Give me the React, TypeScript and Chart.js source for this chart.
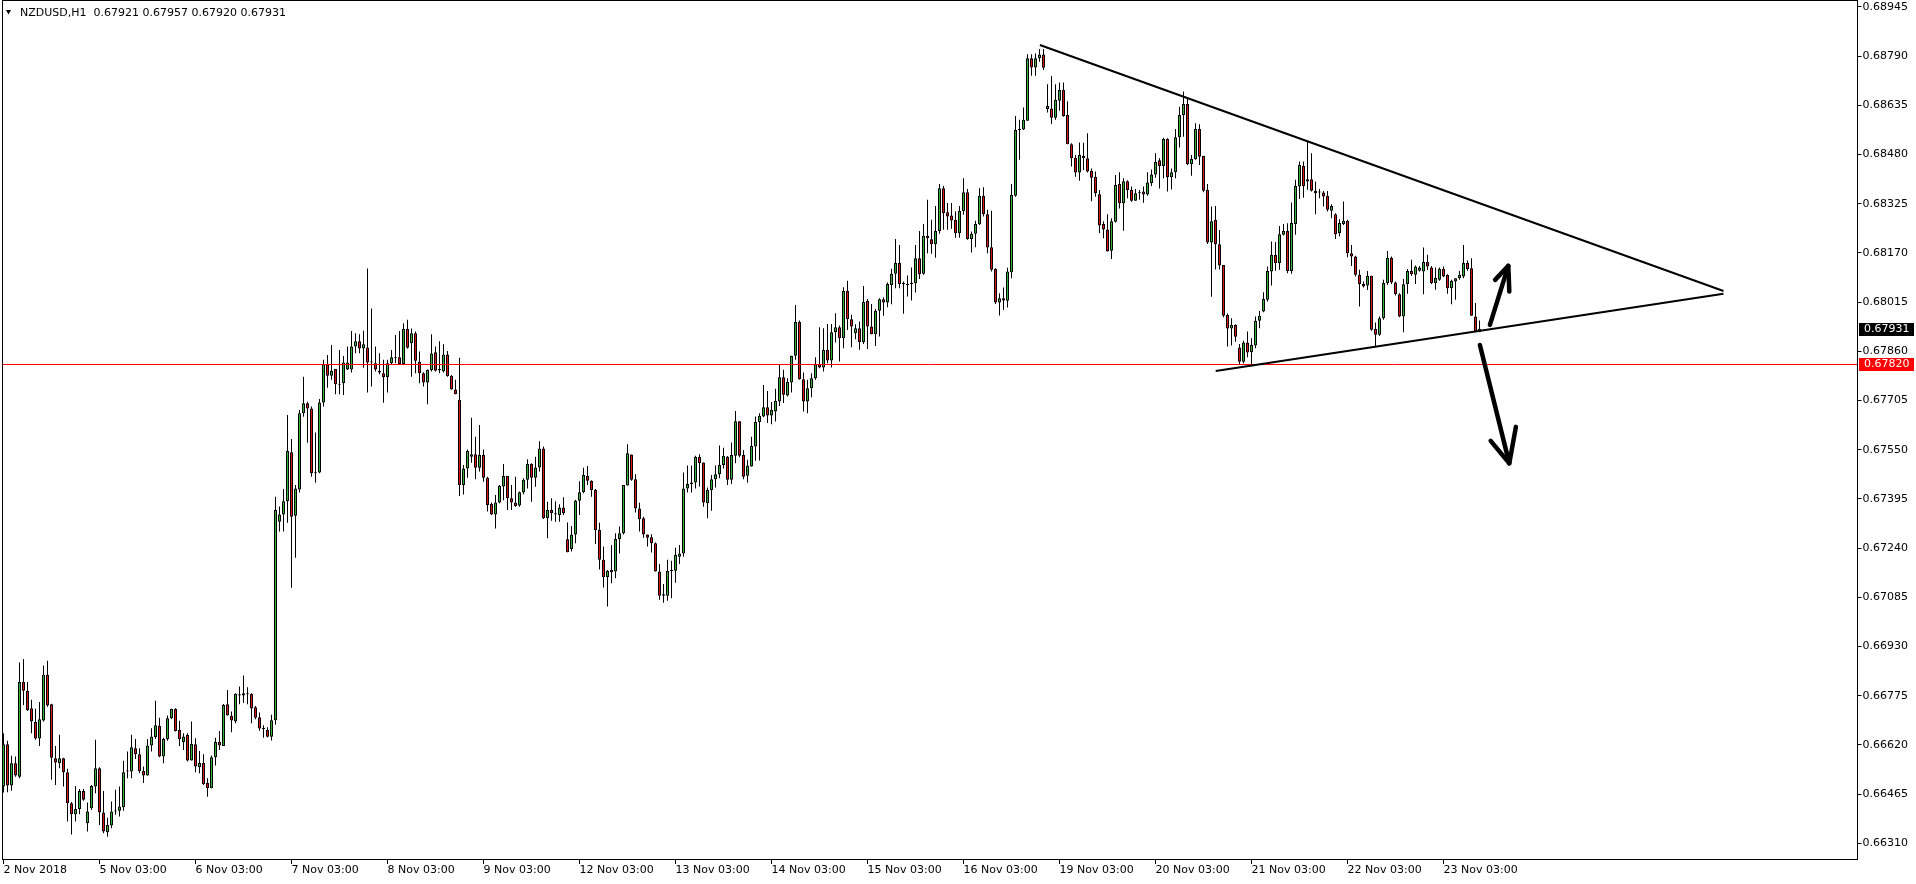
import React, { useEffect, useRef } from 'react';
import { Chart, registerables } from 'chart.js';

Chart.register(...registerables);

// ---- DATA ----
const symbol = 'NZDUSD,H1';

const opens = [
  0.66489,0.66622,0.66492,0.66562,0.66520,0.66818,0.66791,0.66736,0.66692,0.66640,
  0.66697,0.66841,0.66748,0.66578,0.66562,0.66578,0.66534,0.66436,0.66402,0.66418,
  0.66475,0.66373,0.66421,0.66489,0.66547,0.66407,0.66345,0.66366,0.66410,0.66413,
  0.66424,0.66536,0.66536,0.66610,0.66591,0.66538,0.66524,0.66618,0.66644,0.66680,
  0.66584,0.66638,0.66704,0.66733,0.66667,0.66629,0.66651,0.66571,0.66622,0.66550,
  0.66563,0.66500,0.66484,0.66581,0.66629,0.66617,0.66748,0.66712,0.66694,0.66780,
  0.66776,0.66780,0.66781,0.66739,0.66707,0.66672,0.66667,0.66646,0.66698,0.67323,
  0.67346,0.67388,0.67542,0.67342,0.67425,0.67665,0.67696,0.67680,0.67479,0.67478,
  0.67699,0.67819,0.67783,0.67804,0.67757,0.67759,0.67803,0.67803,0.67875,0.67892,
  0.67869,0.67872,0.67825,0.67822,0.67799,0.67791,0.67778,0.67822,0.67838,0.67841,
  0.67820,0.67930,0.67885,0.67917,0.67827,0.67791,0.67762,0.67801,0.67857,0.67801,
  0.67796,0.67850,0.67782,0.67740,0.67707,0.67439,0.67491,0.67528,0.67536,0.67493,
  0.67533,0.67462,0.67379,0.67346,0.67384,0.67434,0.67467,0.67397,0.67384,0.67374,
  0.67415,0.67455,0.67505,0.67462,0.67494,0.67554,0.67334,0.67360,0.67350,0.67344,
  0.67368,0.67268,0.67237,0.67283,0.67389,0.67416,0.67467,0.67452,0.67423,0.67297,
  0.67203,0.67148,0.67171,0.67166,0.67269,0.67287,0.67437,0.67535,0.67457,0.67365,
  0.67334,0.67283,0.67274,0.67255,0.67166,0.67095,0.67090,0.67168,0.67169,0.67213,
  0.67223,0.67428,0.67441,0.67447,0.67528,0.67510,0.67381,0.67423,0.67457,0.67473,
  0.67502,0.67528,0.67455,0.67531,0.67640,0.67533,0.67468,0.67497,0.67560,0.67637,
  0.67655,0.67684,0.67658,0.67670,0.67702,0.67778,0.67721,0.67762,0.67846,0.67952,
  0.67772,0.67702,0.67744,0.67775,0.67819,0.67809,0.67864,0.67831,0.67920,0.67936,
  0.67901,0.68050,0.67961,0.67917,0.67933,0.67889,0.68019,0.67938,0.67914,0.67988,
  0.68024,0.68014,0.68069,0.68104,0.68138,0.68075,0.68072,0.68072,0.68074,0.68153,
  0.68104,0.68224,0.68213,0.68197,0.68239,0.68374,0.68298,0.68288,0.68274,0.68232,
  0.68302,0.68361,0.68214,0.68230,0.68260,0.68350,0.68292,0.68188,0.68119,0.68014,
  0.68027,0.68019,0.68109,0.68350,0.68557,0.68559,0.68586,0.68783,0.68754,0.68783,
  0.68795,0.68623,0.68625,0.68596,0.68649,0.68683,0.68604,0.68512,0.68470,0.68423,
  0.68475,0.68468,0.68428,0.68410,0.68355,0.68261,0.68244,0.68177,0.68268,0.68387,
  0.68326,0.68396,0.68368,0.68334,0.68358,0.68363,0.68354,0.68389,0.68417,0.68462,
  0.68444,0.68529,0.68408,0.68424,0.68534,0.68604,0.68639,0.68449,0.68465,0.68560,
  0.68475,0.68368,0.68203,0.68274,0.68197,0.68132,0.67974,0.67932,0.67943,0.67872,
  0.67827,0.67888,0.67857,0.67878,0.67956,0.67985,0.68022,0.68111,0.68164,0.68138,
  0.68227,0.68239,0.68113,0.68261,0.68379,0.68444,0.68395,0.68402,0.68366,0.68360,
  0.68360,0.68350,0.68303,0.68292,0.68232,0.68261,0.68271,0.68169,0.68159,0.68101,
  0.68072,0.68067,0.68098,0.67931,0.67912,0.67964,0.68075,0.68155,0.68077,0.68040,
  0.67970,0.68071,0.68113,0.68101,0.68114,0.68111,0.68141,0.68124,0.68075,0.68085,
  0.68120,0.68100,0.68059,0.68080,0.68090,0.68096,0.68138,0.68122,0.67970,0.67921,
];

const highs = [
  0.66657,0.66633,0.66586,0.66584,0.66880,0.66891,0.66818,0.66762,0.66734,0.66755,
  0.66870,0.66885,0.66750,0.66617,0.66652,0.66580,0.66545,0.66440,0.66491,0.66481,
  0.66481,0.66439,0.66494,0.66636,0.66550,0.66475,0.66391,0.66442,0.66479,0.66489,
  0.66570,0.66599,0.66652,0.66639,0.66610,0.66552,0.66639,0.66673,0.66759,0.66706,
  0.66643,0.66713,0.66734,0.66736,0.66696,0.66657,0.66657,0.66694,0.66641,0.66601,
  0.66591,0.66515,0.66587,0.66643,0.66664,0.66749,0.66793,0.66725,0.66783,0.66804,
  0.66839,0.66802,0.66783,0.66743,0.66722,0.66682,0.66676,0.66715,0.67402,0.67371,
  0.67426,0.67659,0.67584,0.67439,0.67675,0.67780,0.67701,0.67686,0.67604,0.67710,
  0.67833,0.67848,0.67880,0.67804,0.67864,0.67845,0.67875,0.67924,0.67917,0.67914,
  0.67925,0.68121,0.67995,0.67875,0.67854,0.67833,0.67833,0.67864,0.67911,0.67924,
  0.67948,0.67959,0.67932,0.67922,0.67859,0.67794,0.67803,0.67914,0.67875,0.67892,
  0.67882,0.67861,0.67785,0.67770,0.67840,0.67502,0.67551,0.67651,0.67591,0.67628,
  0.67551,0.67465,0.67384,0.67407,0.67439,0.67505,0.67467,0.67439,0.67465,0.67418,
  0.67460,0.67520,0.67507,0.67528,0.67577,0.67560,0.67386,0.67397,0.67388,0.67378,
  0.67400,0.67321,0.67310,0.67392,0.67451,0.67493,0.67499,0.67454,0.67426,0.67320,
  0.67245,0.67171,0.67250,0.67287,0.67308,0.67439,0.67567,0.67535,0.67473,0.67383,
  0.67339,0.67283,0.67284,0.67258,0.67190,0.67127,0.67203,0.67200,0.67241,0.67250,
  0.67478,0.67500,0.67500,0.67531,0.67536,0.67510,0.67431,0.67470,0.67500,0.67563,
  0.67556,0.67530,0.67573,0.67672,0.67640,0.67549,0.67518,0.67591,0.67655,0.67665,
  0.67754,0.67735,0.67700,0.67742,0.67819,0.67802,0.67775,0.67846,0.68006,0.67957,
  0.67793,0.67770,0.67791,0.67841,0.67936,0.67933,0.67946,0.67946,0.67980,0.67941,
  0.68062,0.68082,0.67975,0.67945,0.67954,0.68066,0.68025,0.68009,0.67993,0.68027,
  0.68030,0.68077,0.68120,0.68214,0.68195,0.68080,0.68099,0.68124,0.68195,0.68239,
  0.68261,0.68337,0.68274,0.68318,0.68387,0.68381,0.68327,0.68327,0.68300,0.68318,
  0.68405,0.68371,0.68237,0.68271,0.68374,0.68377,0.68306,0.68303,0.68122,0.68043,
  0.68061,0.68123,0.68387,0.68601,0.68589,0.68628,0.68796,0.68796,0.68798,0.68812,
  0.68812,0.68701,0.68727,0.68701,0.68707,0.68707,0.68648,0.68515,0.68478,0.68518,
  0.68517,0.68547,0.68436,0.68426,0.68368,0.68270,0.68292,0.68279,0.68415,0.68424,
  0.68405,0.68399,0.68379,0.68371,0.68368,0.68379,0.68424,0.68433,0.68484,0.68468,
  0.68533,0.68531,0.68436,0.68560,0.68630,0.68678,0.68657,0.68478,0.68578,0.68575,
  0.68476,0.68387,0.68316,0.68318,0.68242,0.68132,0.67979,0.67964,0.67945,0.67883,
  0.67893,0.67922,0.67901,0.67970,0.67987,0.68046,0.68127,0.68206,0.68204,0.68255,
  0.68261,0.68263,0.68329,0.68400,0.68458,0.68458,0.68521,0.68484,0.68395,0.68371,
  0.68365,0.68365,0.68323,0.68295,0.68276,0.68332,0.68274,0.68195,0.68161,0.68117,
  0.68080,0.68113,0.68098,0.67951,0.67970,0.68085,0.68176,0.68159,0.68080,0.68043,
  0.68088,0.68119,0.68148,0.68130,0.68129,0.68187,0.68164,0.68129,0.68124,0.68124,
  0.68127,0.68103,0.68085,0.68090,0.68113,0.68195,0.68146,0.68153,0.68012,0.67957,
];

const lows = [
  0.66470,0.66471,0.66476,0.66520,0.66515,0.66746,0.66727,0.66657,0.66636,0.66617,
  0.66694,0.66740,0.66510,0.66494,0.66547,0.66489,0.66379,0.66338,0.66379,0.66402,
  0.66444,0.66347,0.66415,0.66468,0.66368,0.66342,0.66331,0.66358,0.66400,0.66395,
  0.66413,0.66515,0.66515,0.66576,0.66531,0.66500,0.66524,0.66599,0.66639,0.66581,
  0.66562,0.66633,0.66702,0.66662,0.66617,0.66604,0.66568,0.66571,0.66534,0.66531,
  0.66494,0.66457,0.66484,0.66555,0.66604,0.66617,0.66713,0.66660,0.66688,0.66748,
  0.66752,0.66748,0.66688,0.66701,0.66665,0.66643,0.66644,0.66634,0.66684,0.67292,
  0.67292,0.67320,0.67115,0.67210,0.67415,0.67654,0.67572,0.67465,0.67446,0.67476,
  0.67686,0.67745,0.67770,0.67725,0.67725,0.67722,0.67801,0.67793,0.67854,0.67854,
  0.67808,0.67730,0.67749,0.67796,0.67788,0.67698,0.67730,0.67817,0.67822,0.67817,
  0.67817,0.67869,0.67780,0.67791,0.67759,0.67749,0.67693,0.67796,0.67796,0.67791,
  0.67793,0.67780,0.67740,0.67725,0.67404,0.67409,0.67462,0.67509,0.67457,0.67481,
  0.67449,0.67355,0.67344,0.67302,0.67381,0.67391,0.67360,0.67360,0.67370,0.67370,
  0.67410,0.67428,0.67386,0.67433,0.67481,0.67332,0.67271,0.67326,0.67323,0.67323,
  0.67344,0.67227,0.67229,0.67255,0.67344,0.67413,0.67439,0.67402,0.67253,0.67173,
  0.67116,0.67056,0.67129,0.67145,0.67223,0.67283,0.67437,0.67452,0.67352,0.67292,
  0.67273,0.67245,0.67226,0.67166,0.67077,0.67068,0.67074,0.67082,0.67131,0.67190,
  0.67213,0.67415,0.67415,0.67428,0.67434,0.67370,0.67334,0.67358,0.67431,0.67460,
  0.67491,0.67439,0.67442,0.67507,0.67526,0.67457,0.67446,0.67497,0.67515,0.67516,
  0.67652,0.67634,0.67630,0.67639,0.67688,0.67697,0.67718,0.67730,0.67833,0.67770,
  0.67670,0.67665,0.67715,0.67770,0.67807,0.67796,0.67822,0.67809,0.67888,0.67828,
  0.67870,0.67927,0.67873,0.67898,0.67865,0.67883,0.67867,0.67914,0.67877,0.67907,
  0.67972,0.67999,0.68008,0.68059,0.68059,0.67978,0.68033,0.68020,0.68045,0.68088,
  0.68101,0.68169,0.68167,0.68155,0.68230,0.68243,0.68243,0.68246,0.68218,0.68218,
  0.68290,0.68211,0.68171,0.68188,0.68258,0.68285,0.68169,0.68111,0.68009,0.67973,
  0.67990,0.67998,0.68090,0.68347,0.68463,0.68557,0.68586,0.68728,0.68728,0.68772,
  0.68746,0.68612,0.68576,0.68589,0.68618,0.68599,0.68512,0.68442,0.68410,0.68397,
  0.68431,0.68423,0.68333,0.68347,0.68232,0.68216,0.68174,0.68151,0.68266,0.68310,
  0.68240,0.68342,0.68331,0.68334,0.68337,0.68328,0.68350,0.68381,0.68407,0.68373,
  0.68405,0.68363,0.68370,0.68405,0.68502,0.68536,0.68447,0.68413,0.68463,0.68447,
  0.68361,0.68198,0.68032,0.68118,0.68118,0.67967,0.67875,0.67878,0.67890,0.67817,
  0.67822,0.67841,0.67812,0.67870,0.67933,0.67983,0.68017,0.68067,0.68114,0.68117,
  0.68225,0.68106,0.68104,0.68227,0.68340,0.68344,0.68369,0.68363,0.68292,0.68342,
  0.68316,0.68300,0.68279,0.68214,0.68222,0.68258,0.68156,0.68129,0.68096,0.68001,
  0.68061,0.68053,0.67925,0.67877,0.67909,0.67959,0.68069,0.68072,0.68036,0.67967,
  0.67920,0.68041,0.68098,0.68072,0.68111,0.68040,0.68116,0.68072,0.68054,0.68082,
  0.68093,0.68041,0.68008,0.68022,0.68085,0.68090,0.68114,0.67972,0.67920,0.67920,
];

const closes = [
  0.66622,0.66492,0.66562,0.66524,0.66818,0.66791,0.66730,0.66694,0.66640,0.66701,
  0.66841,0.66744,0.66580,0.66565,0.66578,0.66534,0.66436,0.66402,0.66418,0.66475,
  0.66447,0.66410,0.66491,0.66547,0.66407,0.66347,0.66368,0.66410,0.66413,0.66426,
  0.66534,0.66536,0.66613,0.66591,0.66538,0.66524,0.66618,0.66647,0.66682,0.66584,
  0.66639,0.66704,0.66733,0.66664,0.66638,0.66647,0.66571,0.66623,0.66552,0.66563,
  0.66497,0.66484,0.66581,0.66629,0.66618,0.66746,0.66713,0.66697,0.66781,0.66776,
  0.66783,0.66783,0.66735,0.66706,0.66672,0.66670,0.66646,0.66698,0.67360,0.67346,
  0.67388,0.67546,0.67339,0.67428,0.67665,0.67696,0.67680,0.67476,0.67476,0.67699,
  0.67819,0.67783,0.67799,0.67756,0.67755,0.67825,0.67825,0.67875,0.67892,0.67869,
  0.67882,0.67825,0.67825,0.67803,0.67793,0.67778,0.67822,0.67841,0.67841,0.67820,
  0.67930,0.67871,0.67917,0.67830,0.67791,0.67762,0.67801,0.67853,0.67799,0.67801,
  0.67850,0.67782,0.67740,0.67725,0.67439,0.67491,0.67546,0.67536,0.67493,0.67533,
  0.67462,0.67376,0.67346,0.67384,0.67436,0.67467,0.67397,0.67384,0.67373,0.67416,
  0.67455,0.67505,0.67462,0.67494,0.67554,0.67334,0.67360,0.67350,0.67346,0.67368,
  0.67350,0.67227,0.67283,0.67389,0.67416,0.67470,0.67452,0.67423,0.67297,0.67203,
  0.67148,0.67169,0.67164,0.67269,0.67287,0.67439,0.67539,0.67455,0.67365,0.67331,
  0.67283,0.67273,0.67255,0.67166,0.67090,0.67090,0.67168,0.67168,0.67218,0.67223,
  0.67428,0.67442,0.67447,0.67528,0.67507,0.67384,0.67423,0.67457,0.67473,0.67502,
  0.67531,0.67455,0.67533,0.67640,0.67531,0.67465,0.67500,0.67562,0.67637,0.67657,
  0.67684,0.67658,0.67676,0.67704,0.67778,0.67723,0.67763,0.67846,0.67952,0.67772,
  0.67702,0.67744,0.67775,0.67819,0.67809,0.67864,0.67831,0.67920,0.67936,0.67901,
  0.68050,0.67961,0.67938,0.67933,0.67889,0.68015,0.67938,0.67914,0.67988,0.68024,
  0.68014,0.68072,0.68104,0.68138,0.68072,0.68071,0.68068,0.68076,0.68153,0.68103,
  0.68224,0.68216,0.68197,0.68239,0.68374,0.68295,0.68285,0.68272,0.68232,0.68302,
  0.68361,0.68214,0.68230,0.68261,0.68350,0.68292,0.68187,0.68117,0.68014,0.68027,
  0.68020,0.68111,0.68352,0.68557,0.68560,0.68589,0.68783,0.68754,0.68783,0.68795,
  0.68753,0.68633,0.68596,0.68652,0.68683,0.68601,0.68512,0.68468,0.68423,0.68478,
  0.68468,0.68426,0.68407,0.68358,0.68256,0.68244,0.68174,0.68270,0.68384,0.68326,
  0.68396,0.68368,0.68334,0.68358,0.68360,0.68354,0.68392,0.68417,0.68457,0.68444,
  0.68529,0.68408,0.68424,0.68534,0.68604,0.68639,0.68449,0.68466,0.68560,0.68473,
  0.68366,0.68203,0.68270,0.68197,0.68130,0.67972,0.67932,0.67943,0.67906,0.67827,
  0.67888,0.67856,0.67880,0.67956,0.67972,0.68025,0.68113,0.68164,0.68138,0.68229,
  0.68239,0.68113,0.68264,0.68381,0.68447,0.68381,0.68402,0.68366,0.68358,0.68360,
  0.68348,0.68306,0.68318,0.68229,0.68264,0.68271,0.68169,0.68159,0.68101,0.68072,
  0.68064,0.68098,0.67928,0.67912,0.67964,0.68075,0.68155,0.68077,0.68040,0.67970,
  0.68071,0.68113,0.68103,0.68127,0.68124,0.68141,0.68127,0.68075,0.68092,0.68120,
  0.68096,0.68059,0.68082,0.68090,0.68101,0.68138,0.68119,0.67972,0.67922,0.67931,
];

// time-axis labels and the bar index each one sits on
const dayLabels = [
  '2 Nov 2018', '5 Nov 03:00', '6 Nov 03:00', '7 Nov 03:00', '8 Nov 03:00', '9 Nov 03:00',
  '12 Nov 03:00', '13 Nov 03:00', '14 Nov 03:00', '15 Nov 03:00', '16 Nov 03:00',
  '19 Nov 03:00', '20 Nov 03:00', '21 Nov 03:00', '22 Nov 03:00', '23 Nov 03:00',
];
const dayLabelBars = [0, 24, 48, 72, 96, 120, 144, 168, 192, 216, 240, 264, 288, 312, 336, 360];

// price-axis tick values
const priceTicks = [
  0.66310, 0.66465, 0.66620, 0.66775, 0.66930, 0.67085, 0.67240, 0.67395, 0.67550,
  0.67705, 0.67860, 0.68015, 0.68170, 0.68325, 0.68480, 0.68635, 0.68790, 0.68945,
];
const priceMin = 0.662576;
const priceMax = 0.689666;
const totalSlots = 464; // bars + empty chart shift on the right

// drawn objects (bar index, price)
const supportLevel = 0.6782;
const upperTrendBars = [259.1, 430];
const upperTrendPrices = [0.68825, 0.6805];
const lowerTrendBars = [303.05, 430];
const lowerTrendPrices = [0.67798, 0.68041];
const upArrowBars = [371.6, 376.2];
const upArrowPrices = [0.67943, 0.68129];
const upHeadBars = [372.9, 376.2, 376.45];
const upHeadPrices = [0.68085, 0.68129, 0.68048];
const downArrowBars = [369.1, 376.45];
const downArrowPrices = [0.6788, 0.67507];
const downHeadBars = [371.8, 376.45, 378.1];
const downHeadPrices = [0.67578, 0.67507, 0.67622];

// ---- STYLE ----
const BULL = '#33b333';
const BEAR = '#dd1414';
const FONT = '"DejaVu Sans"';

const overlayPlugin = {
  id: 'mtOverlay',
  afterDatasetsDraw(chart: any) {
    const { ctx, chartArea: a } = chart;
    const xs = chart.scales.x;
    const ys = chart.scales.y;
    const px = (b: number) => xs.getPixelForValue(b);
    const py = (p: number) => ys.getPixelForValue(p);

    ctx.save();
    ctx.beginPath();
    ctx.rect(a.left, a.top, a.right - a.left, a.bottom - a.top);
    ctx.clip();

    // horizontal level
    const yr = Math.round(py(supportLevel)) + 0.5;
    ctx.strokeStyle = '#ff0000';
    ctx.lineWidth = 1;
    ctx.beginPath();
    ctx.moveTo(a.left, yr);
    ctx.lineTo(a.right, yr);
    ctx.stroke();

    // trend lines
    ctx.strokeStyle = '#000';
    ctx.lineWidth = 2;
    ctx.lineCap = 'butt';
    ctx.beginPath();
    ctx.moveTo(px(upperTrendBars[0]), py(upperTrendPrices[0]));
    ctx.lineTo(px(upperTrendBars[1]), py(upperTrendPrices[1]));
    ctx.moveTo(px(lowerTrendBars[0]), py(lowerTrendPrices[0]));
    ctx.lineTo(px(lowerTrendBars[1]), py(lowerTrendPrices[1]));
    ctx.stroke();

    // hand-drawn arrows
    ctx.lineWidth = 4.5;
    ctx.lineCap = 'round';
    ctx.lineJoin = 'round';
    const poly = (bs: number[], ps: number[]) => {
      ctx.beginPath();
      ctx.moveTo(px(bs[0]), py(ps[0]));
      for (let k = 1; k < bs.length; k++) ctx.lineTo(px(bs[k]), py(ps[k]));
      ctx.stroke();
    };
    poly(upArrowBars, upArrowPrices);
    poly(upHeadBars, upHeadPrices);
    poly(downArrowBars, downArrowPrices);
    poly(downHeadBars, downHeadPrices);
    ctx.restore();

    // frame
    ctx.save();
    ctx.strokeStyle = '#000';
    ctx.lineWidth = 1;
    const l = Math.round(a.left) + 0.5;
    const r = Math.round(a.right) - 0.5;
    const t = Math.round(a.top) + 0.5;
    const b = Math.round(a.bottom) - 0.5;
    ctx.strokeRect(l, t, r - l, b - t);
    ctx.restore();
  },
  afterDraw(chart: any) {
    const { ctx, chartArea: a } = chart;
    const ys = chart.scales.y;
    const last = closes.length - 1;
    ctx.save();
    ctx.font = `11px ${FONT}`;
    ctx.textBaseline = 'middle';
    ctx.textAlign = 'left';

    const box = (price: number, bg: string) => {
      const y = Math.round(ys.getPixelForValue(price));
      const x0 = Math.round(a.right) + 1;
      ctx.fillStyle = bg;
      ctx.fillRect(x0, y - 6, 55, 13);
      ctx.fillStyle = '#fff';
      ctx.fillText(price.toFixed(5), x0 + 5, y + 0.5);
    };
    box(closes[last], '#000');
    box(supportLevel, '#ff0000');

    // header
    ctx.fillStyle = '#000';
    ctx.beginPath();
    ctx.moveTo(6, 10);
    ctx.lineTo(11, 10);
    ctx.lineTo(8.5, 14.5);
    ctx.closePath();
    ctx.fill();
    const hdr = `${symbol}  ${opens[last].toFixed(5)} ${highs[last].toFixed(5)} ${lows[last].toFixed(5)} ${closes[last].toFixed(5)}`;
    ctx.fillText(hdr, 20, 13);
    ctx.restore();
  },
};

export default function App() {
  const canvasRef = useRef<HTMLCanvasElement | null>(null);

  useEffect(() => {
    document.body.style.margin = '0';
    const canvas = canvasRef.current;
    if (!canvas) return;

    const slotLabels = Array.from({ length: totalSlots }, (_, i) => String(i));
    const bodyColors = closes.map((c, i) => (c >= opens[i] ? BULL : BEAR));

    const chart = new Chart(canvas, {
      type: 'bar',
      data: {
        labels: slotLabels,
        datasets: [
          {
            label: 'body',
            data: opens.map((o, i) => [o, closes[i]]) as any,
            backgroundColor: bodyColors,
            borderColor: '#000',
            borderWidth: 1,
            borderSkipped: false,
            barThickness: 3,
            minBarLength: 1,
            grouped: false,
            inflateAmount: 0,
          } as any,
          {
            label: 'wick',
            data: lows.map((l, i) => [l, highs[i]]) as any,
            backgroundColor: '#000',
            borderWidth: 0,
            barThickness: 1,
            grouped: false,
            inflateAmount: 0,
          } as any,
        ],
      },
      options: {
        responsive: false,
        animation: false,
        devicePixelRatio: 1,
        events: [],
        layout: { padding: { left: 1.5, top: 0, right: 0, bottom: 0 } },
        plugins: {
          legend: { display: false },
          tooltip: { enabled: false },
          title: { display: false },
        },
        scales: {
          x: {
            type: 'category',
            offset: true,
            grid: {
              display: true,
              drawOnChartArea: false,
              drawTicks: true,
              tickLength: 4,
              color: '#000',
              offset: false,
            },
            border: { display: false },
            ticks: {
              autoSkip: false,
              maxRotation: 0,
              minRotation: 0,
              align: 'start',
              padding: 0,
              color: '#000',
              font: { family: 'DejaVu Sans', size: 11 },
              callback: (_v: any, idx: number) => dayLabels[idx],
            },
            afterBuildTicks: (scale: any) => {
              scale.ticks = dayLabelBars.map((v) => ({ value: v }));
            },
            afterFit: (scale: any) => {
              scale.height = 24;
              scale.paddingLeft = 0;
              scale.paddingRight = 0;
            },
          } as any,
          y: {
            type: 'linear',
            position: 'right',
            min: priceMin,
            max: priceMax,
            grid: {
              display: true,
              drawOnChartArea: false,
              drawTicks: true,
              tickLength: 4,
              color: '#000',
            },
            border: { display: false },
            ticks: {
              autoSkip: false,
              padding: 1,
              color: '#000',
              font: { family: 'DejaVu Sans', size: 11 },
              callback: (v: any) => Number(v).toFixed(5),
            },
            afterBuildTicks: (scale: any) => {
              scale.ticks = priceTicks.map((v) => ({ value: v }));
            },
            afterFit: (scale: any) => {
              scale.width = 58.5;
              scale.paddingTop = 0;
              scale.paddingBottom = 0;
            },
          } as any,
        },
      },
      plugins: [overlayPlugin],
    });

    return () => chart.destroy();
  }, []);

  return (
    <div style={{ width: 1916, height: 884, background: '#fff' }}>
      <canvas ref={canvasRef} width={1916} height={884} style={{ display: 'block' }} />
    </div>
  );
}
